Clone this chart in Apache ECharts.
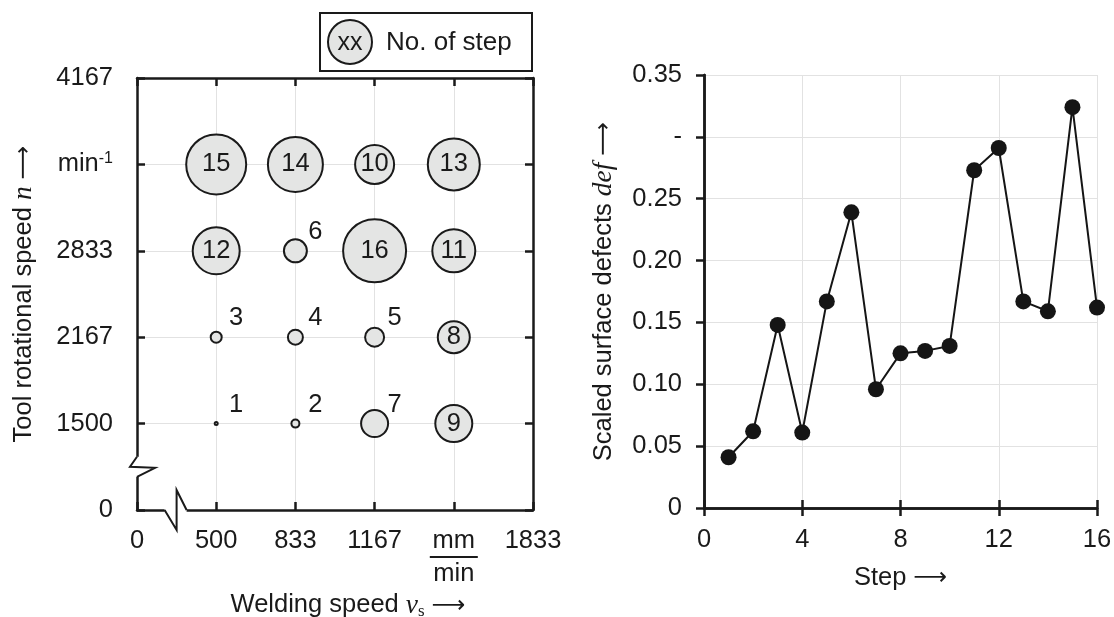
<!DOCTYPE html>
<html><head><meta charset="utf-8">
<script src="https://cdn.jsdelivr.net/npm/echarts@6/dist/echarts.min.js"></script>
<style>html,body{margin:0;padding:0;background:#fff}#c{width:1114px;height:617px}</style>
</head><body><div id="c"></div>
<script>
// ---- data ----
const weldCats = ['0', '500', '833', '1167', '1500', '1833'];
const rpmCats = ['0', '1500', '2167', '2833', '3500', '4167'];
const steps = [1, 2, 3, 4, 5, 6, 7, 8, 9, 10, 11, 12, 13, 14, 15, 16];
const weldingSpeed = [500, 833, 500, 833, 1167, 833, 1167, 1500, 1500, 1167, 1500, 500, 1500, 833, 500, 1167];
const rotSpeed = [1500, 1500, 2167, 2167, 2167, 2833, 1500, 2167, 1500, 3500, 2833, 2833, 3500, 3500, 3500, 2833];
const bubbleValue = [3, 8, 11, 15, 19, 23, 27, 32, 37, 39, 43, 47, 52, 55, 60, 63];
const defects = [0.041, 0.062, 0.148, 0.061, 0.167, 0.239, 0.096, 0.125, 0.127, 0.131, 0.273, 0.291, 0.167, 0.159, 0.324, 0.162];
const rightYLabels = ['0', '0.05', '0.10', '0.15', '0.20', '0.25', '-', '0.35'];

const FONT = 'Liberation Sans, Arial, sans-serif';
const SERIF = 'Liberation Serif, Times New Roman, serif';
const ARROW = 'DejaVu Sans, sans-serif';
const INK = '#1a1a1a';
const FS = 25.5;

const chart = echarts.init(document.getElementById('c'), null, {renderer: 'canvas'});

const axisLine = {show: true, lineStyle: {color: INK, width: 2.5}};
const gridLine = {show: true, lineStyle: {color: '#e2e2e2', width: 1}};
const inTick = {show: true, inside: true, length: 8, lineStyle: {color: INK, width: 2.5}};
const lab = {color: INK, fontFamily: FONT, fontSize: FS};
const richName = {
  t: {fontSize: FS, fontFamily: FONT, color: INK},
  i: {fontSize: FS + 2, fontFamily: SERIF, fontStyle: 'italic', color: INK},
  s: {fontSize: 17, fontFamily: SERIF, color: INK, padding: [12, 0, 0, 0]},
  r: {fontSize: FS - 2, fontFamily: ARROW, color: INK}
};

const bubbleData = steps.map((s, i) => {
  const d = bubbleValue[i];
  const inside = d >= 30;
  return {
    value: [String(weldingSpeed[i]), String(rotSpeed[i]), d, s],
    label: inside
      ? {show: true, position: 'inside'}
      : {show: true, position: [d / 2 + 21, d / 2 - 18], align: 'center', verticalAlign: 'middle'}
  };
});

const option = {
  animation: false,
  backgroundColor: '#fff',
  grid: [
    {left: 137, top: 78, width: 396, height: 432, outerBoundsMode: 'none', containLabel: false},
    {left: 704, top: 75, width: 393, height: 433, outerBoundsMode: 'none', containLabel: false}
  ],
  xAxis: [
    {
      gridIndex: 0, type: 'category', data: weldCats, boundaryGap: false, position: 'bottom',
      axisLine, axisTick: inTick, splitLine: gridLine,
      axisLabel: Object.assign({}, lab, {
        margin: 18, interval: 0,
        formatter: (v) => v === '1500' ? '{u|mm}\n{bar| }\n{d|min}' : v,
        rich: {
          u: {fontSize: FS, fontFamily: FONT, color: INK, lineHeight: 26},
          bar: {width: 48, height: 2, lineHeight: 6, backgroundColor: INK, fontSize: 2},
          d: {fontSize: FS, fontFamily: FONT, color: INK, lineHeight: 28}
        }
      }),
      name: '{t|Welding speed }{i|v}{s|s}{t| }{r|⟶}', nameLocation: 'middle', nameGap: 76,
      nameTextStyle: {rich: richName, padding: [0, 0, 0, 26]}
    },
    {
      gridIndex: 0, type: 'category', data: weldCats, boundaryGap: false, position: 'top',
      axisLine, axisTick: inTick, axisLabel: {show: false}, splitLine: {show: false}
    },
    {
      gridIndex: 1, type: 'value', min: 0, max: 16, interval: 4, position: 'bottom',
      axisLine, axisTick: inTick, splitLine: gridLine,
      axisLabel: Object.assign({}, lab, {margin: 19}),
      name: '{t|Step }{r|⟶}', nameLocation: 'middle', nameGap: 57,
      nameTextStyle: {rich: richName}
    },
    {
      gridIndex: 1, type: 'value', min: 0, max: 16, interval: 4, position: 'top',
      axisLine, axisTick: inTick, axisLabel: {show: false}, splitLine: {show: false}
    }
  ],
  yAxis: [
    {
      gridIndex: 0, type: 'category', data: rpmCats, boundaryGap: false, position: 'left',
      axisLine, axisTick: inTick, splitLine: gridLine,
      axisLabel: Object.assign({}, lab, {
        margin: 24, interval: 0,
        formatter: (v) => v === '3500' ? '{a|min}{sup|-1}' : v,
        rich: {
          a: {fontSize: FS, fontFamily: FONT, color: INK},
          sup: {fontSize: 16, fontFamily: FONT, color: INK, padding: [0, 0, 12, 0]}
        }
      }),
      name: '{t|Tool rotational speed }{i|n}{t| }{r|⟶}', nameLocation: 'middle', nameGap: 100,
      nameTextStyle: {rich: richName}
    },
    {
      gridIndex: 0, type: 'category', data: rpmCats, boundaryGap: false, position: 'right',
      axisLine, axisTick: inTick, axisLabel: {show: false}, splitLine: {show: false}
    },
    {
      gridIndex: 1, type: 'value', min: 0, max: 0.35, interval: 0.05, position: 'left',
      axisLine, axisTick: {show: false}, splitLine: gridLine,
      axisLabel: Object.assign({}, lab, {
        margin: 22,
        formatter: (v) => rightYLabels[Math.round(v / 0.05)]
      }),
      name: '{t|Scaled surface defects }{i|def}{t| }{r|⟶}', nameLocation: 'middle', nameGap: 87,
      nameTextStyle: {rich: richName}
    },
    {
      gridIndex: 1, type: 'value', min: 0, max: 0.35, interval: 0.05, position: 'right',
      axisLine, axisTick: inTick, axisLabel: {show: false}, splitLine: {show: false}
    }
  ],
  series: [
    {
      type: 'scatter', xAxisIndex: 0, yAxisIndex: 0,
      data: bubbleData,
      symbol: 'circle',
      symbolSize: (v) => v[2],
      itemStyle: {color: '#e4e5e4', borderColor: INK, borderWidth: 2, opacity: 1},
      label: {color: INK, fontFamily: FONT, fontSize: FS, formatter: (p) => String(p.value[3])},
      emphasis: {disabled: true},
      z: 5
    },
    {
      type: 'line', xAxisIndex: 2, yAxisIndex: 2,
      data: steps.map((s, i) => [s, defects[i]]),
      symbol: 'circle', symbolSize: 16, showAllSymbol: true,
      itemStyle: {color: '#151515'},
      lineStyle: {color: '#151515', width: 2},
      clip: false,
      z: 5
    }
  ]
};
chart.setOption(option);

// axis-break marks and legend box
const p0 = chart.convertToPixel({gridIndex: 0}, [0, 0]);
const p1 = chart.convertToPixel({gridIndex: 0}, [1, 1]);
const ax = p0[0], ay = p0[1];
const ym = (p0[1] + p1[1]) / 2, xm = (p0[0] + p1[0]) / 2;
const blk = {stroke: INK, lineWidth: 2, fill: null};
chart.setOption({
  graphic: [
    {type: 'rect', z: 100, shape: {x: ax - 4, y: ym - 10, width: 8, height: 20}, style: {fill: '#fff'}},
    {type: 'polyline', z: 101, shape: {points: [[ax, ym - 10], [ax - 7, ym], [ax + 18, ym + 1], [ax, ym + 10]]}, style: blk},
    {type: 'rect', z: 100, shape: {x: xm - 12, y: ay - 4, width: 22, height: 8}, style: {fill: '#fff'}},
    {type: 'polyline', z: 101, shape: {points: [[xm - 12, ay], [xm, ay + 20], [xm, ay - 20], [xm + 10, ay]]}, style: blk},
    {type: 'rect', z: 100, shape: {x: 320, y: 13, width: 212, height: 58}, style: {fill: '#fff', stroke: INK, lineWidth: 2}},
    {type: 'circle', z: 101, shape: {cx: 350, cy: 42, r: 22}, style: {fill: '#e4e5e4', stroke: INK, lineWidth: 2}},
    {type: 'text', z: 102, style: {x: 350, y: 43, text: 'xx', align: 'center', verticalAlign: 'middle', fill: INK, font: '25px ' + FONT}},
    {type: 'text', z: 102, style: {x: 386, y: 43, text: 'No. of step', align: 'left', verticalAlign: 'middle', fill: INK, font: '26px ' + FONT}}
  ]
});
</script></body></html>
